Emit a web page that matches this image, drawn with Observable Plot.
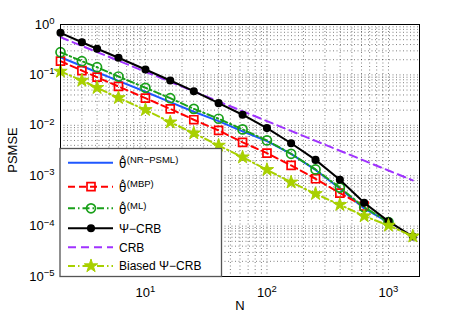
<!DOCTYPE html>
<html><head><meta charset="utf-8">
<script src="https://cdn.jsdelivr.net/npm/d3@7"></script>
<script src="https://cdn.jsdelivr.net/npm/@observablehq/plot@0.6"></script>
<style>body{margin:0;background:#fff} svg{font-family:"Liberation Sans",Arial,sans-serif}</style>
</head><body><div id="chart"></div>
<script>
const N = [2, 3, 4, 6, 10, 16, 25, 40, 63, 100, 158, 251, 398, 631, 1000, 1585];
const nrpsml = [0.224, 0.15, 0.113, 0.076, 0.0464, 0.0288, 0.0186, 0.0121, 0.00757, 0.00484, 0.0027, 0.0013, 0.000557, 0.000224, 0.000118];
const mbp = [0.187, 0.122, 0.09, 0.059, 0.0345, 0.0212, 0.0129, 0.0079, 0.0046, 0.0028, 0.0016, 0.00087, 0.00045, 0.00025];
const ml = [0.282, 0.187, 0.142, 0.093, 0.0555, 0.0345, 0.0212, 0.0135, 0.0083, 0.005, 0.00272, 0.00133, 0.00058, 0.000237, 0.00012];
const psiCRB = [0.684, 0.445, 0.33, 0.219, 0.128, 0.0775, 0.0475, 0.0275, 0.0162, 0.0088, 0.0044, 0.00206, 0.00083, 0.00029, 0.000124, 0.000062];
const crb = [0.56, 0.376, 0.284, 0.191, 0.1156, 0.0729, 0.0471, 0.0297, 0.019, 0.0121, 0.00773, 0.00491, 0.00313, 0.00199, 0.00127, 0.000807];
const biased = [0.117, 0.0775, 0.0555, 0.0351, 0.0203, 0.0115, 0.00697, 0.00398, 0.00233, 0.00131, 0.00074, 0.000437, 0.000265, 0.000158, 0.000103, 0.000063];

const xTicks = [10, 100, 1000];
const yTicks = [1, 0.1, 0.01, 0.001, 0.0001, 0.00001];
const xDomain = [2, 1800];
const yDomain = [1e-5, 1];

const xGrid = [];
for (const d of [1, 10, 100, 1000]) for (let k = 1; k <= 9; k++) { const v = k * d; if (v >= xDomain[0] && v <= xDomain[1]) xGrid.push(v); }
const yGrid = [];
for (const d of [1e-5, 1e-4, 1e-3, 1e-2, 1e-1]) for (let k = 1; k <= 9; k++) yGrid.push(k * d);
yGrid.push(1);

const toRows = (vals) => vals.map((v, i) => ({N: N[i], v}));

const series = [
  {key: "nr", vals: nrpsml, color: "#1f57ff", dash: null, sym: null},
  {key: "mbp", vals: mbp, color: "#ff0000", dash: "7,4", sym: "square", fill: "none", r: 4.5},
  {key: "ml", vals: ml, color: "#1aa01a", dash: "7,3,1.5,3", sym: "circle", fill: "none", r: 4.5},
  {key: "psi", vals: psiCRB, color: "#000000", dash: null, sym: "circle", fill: "#000", r: 3.2},
  {key: "crb", vals: crb, color: "#a033ff", dash: "8,5", sym: null},
  {key: "bias", vals: biased, color: "#a8d000", dash: "7,3,1.5,3", sym: "star", fill: "#a8d000", r: 4.2}
];
const drawOrder = ["crb", "nr", "mbp", "ml", "psi", "bias"];

const marks = [
  Plot.ruleX(xGrid, {stroke: "#000", strokeOpacity: 0.5, strokeDasharray: "1,2.5", strokeWidth: 1}),
  Plot.ruleY(yGrid, {stroke: "#000", strokeOpacity: 0.5, strokeDasharray: "1,2.5", strokeWidth: 1})
];
for (const k of drawOrder) {
  const s = series.find(d => d.key === k);
  const rows = toRows(s.vals);
  marks.push(Plot.line(rows, {x: "N", y: "v", stroke: s.color, strokeWidth: 2, strokeDasharray: s.dash || undefined}));
  if (s.sym) marks.push(Plot.dot(rows, {x: "N", y: "v", symbol: s.sym, r: s.r, stroke: s.color, fill: s.fill, strokeWidth: s.sym === "star" ? 1 : 1.7}));
}
const fmt = d => "10|" + String(Math.round(Math.log10(d))).replace("-", "\u2212");
marks.push(
  Plot.frame({stroke: "#000", strokeWidth: 1}),
  Plot.axisX({ticks: xTicks, tickSize: 0, tickPadding: 11, tickFormat: fmt, label: null, fontSize: 13}),
  Plot.axisY({ticks: yTicks, tickSize: 0, tickPadding: 6, tickFormat: fmt, label: null, fontSize: 13})
);

const chart = Plot.plot({
  width: 463, height: 319,
  marginLeft: 60, marginRight: 44, marginTop: 24, marginBottom: 43,
  x: {type: "log", domain: xDomain},
  y: {type: "log", domain: yDomain},
  style: {fontFamily: "'Liberation Sans', Arial, sans-serif", fontSize: "13px", background: "#fff", color: "#000"},
  marks
});
document.getElementById("chart").appendChild(chart);

const svg = d3.select(chart);
svg.selectAll('g[aria-label="x-axis tick label"] text, g[aria-label="y-axis tick label"] text').each(function () {
  const t = this.textContent;
  if (t.includes("|")) {
    const [b, e] = t.split("|");
    this.textContent = b;
    d3.select(this).append("tspan").attr("dy", "-0.5em").attr("font-size", "9.5px").text(e);
  }
});

// axis labels
svg.append("text").attr("x", 240).attr("y", 310).attr("text-anchor", "middle").attr("font-size", 13).text("N");
svg.append("text").attr("transform", "translate(17,150) rotate(-90)").attr("text-anchor", "middle").attr("font-size", 13).text("PSMSE");

// legend
const lg = svg.append("g").attr("text-anchor", "start");
lg.append("rect").attr("x", 60).attr("y", 148.5).attr("width", 161.5).attr("height", 128).attr("fill", "#fff").attr("stroke", "#555").attr("stroke-width", 1.3);
const rowsY = [162.7, 186.7, 208.3, 228.3, 247.3, 266];
const labels = [
  {theta: true, sup: "(NR\u2212PSML)"},
  {theta: true, sup: "(MBP)"},
  {theta: true, sup: "(ML)"},
  {text: "\u03A8\u2212CRB"},
  {text: "CRB"},
  {text: "Biased \u03A8\u2212CRB"}
];
const legendOrder = ["nr", "mbp", "ml", "psi", "crb", "bias"];
legendOrder.forEach((k, i) => {
  const s = series.find(d => d.key === k);
  const yc = rowsY[i];
  lg.append("line").attr("x1", 68).attr("x2", 113).attr("y1", yc).attr("y2", yc)
    .attr("stroke", s.color).attr("stroke-width", 2).attr("stroke-dasharray", s.dash);
  if (s.sym) {
    const symType = {square: d3.symbolSquare, circle: d3.symbolCircle, star: d3.symbolStar}[s.sym];
    lg.append("path").attr("d", d3.symbol(symType, Math.PI * s.r * s.r)())
      .attr("transform", `translate(91,${yc})`).attr("stroke", s.color).attr("fill", s.fill)
      .attr("stroke-width", s.sym === "star" ? 1 : 1.7);
  }
  const L = labels[i];
  if (L.theta) {
    const t = lg.append("text").attr("x", 119).attr("y", yc + 5.5).attr("font-size", 12);
    t.append("tspan").attr("font-family", "'DejaVu Sans', sans-serif").attr("font-size", 12).text("\u03B8\u0302");
    t.append("tspan").attr("dx", 0.5).attr("dy", -5).attr("font-size", 9.5).text(L.sup);
  } else {
    lg.append("text").attr("x", 119).attr("y", yc + 4.3).attr("font-size", 12).text(L.text);
  }
});
</script></body></html>
